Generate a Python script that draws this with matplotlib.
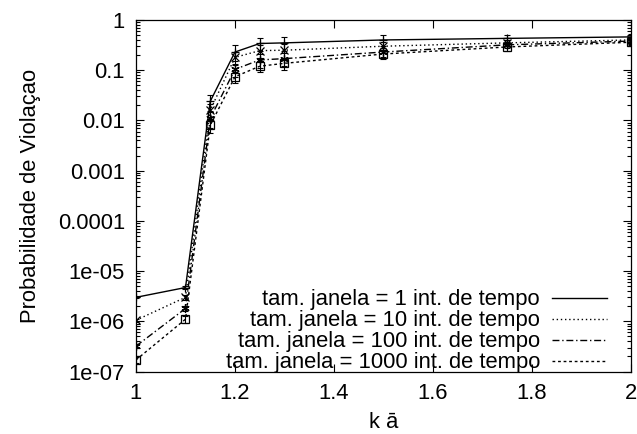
import matplotlib
matplotlib.use("Agg")
import matplotlib.pyplot as plt
from matplotlib.ticker import FixedLocator, LogLocator, NullFormatter

plt.rcParams['font.family'] = ['Liberation Sans', 'DejaVu Sans']

# dados
k_a = [1.0, 1.1, 1.15, 1.2, 1.25, 1.3, 1.5, 1.75, 2.0]
p_j1 = [3.0e-6, 4.7e-6, 0.024, 0.23, 0.34, 0.35, 0.40, 0.43, 0.46]
p_j10 = [1.05e-6, 3.0e-6, 0.016, 0.18, 0.245, 0.25, 0.30, 0.35, 0.40]
p_j100 = [3.2e-7, 1.8e-6, 0.011, 0.104, 0.16, 0.17, 0.23, 0.32, 0.38]
p_j1000 = [1.7e-7, 1.1e-6, 0.008, 0.074, 0.12, 0.137, 0.21, 0.29, 0.36]
# meia largura relativa das barras de erro
err_j1 = [0.05, 0.08, 0.35, 0.35, 0.30, 0.30, 0.25, 0.15, 0.12]
err_j10 = [0.08, 0.10, 0.35, 0.30, 0.30, 0.30, 0.20, 0.15, 0.12]
err_j100 = [0.10, 0.12, 0.35, 0.30, 0.30, 0.30, 0.20, 0.15, 0.12]
err_j1000 = [0.12, 0.15, 0.30, 0.25, 0.25, 0.25, 0.20, 0.15, 0.12]
labels = ['tam. janela = 1 int. de tempo', 'tam. janela = 10 int. de tempo',
          'tam. janela = 100 int. de tempo', 'tam. janela = 1000 int. de tempo']
yticks = [1e-7, 1e-6, 1e-5, 1e-4, 1e-3, 1e-2, 1e-1, 1]
ytick_labels = ['1e-07', '1e-06', '1e-05', '0.0001', '0.001', '0.01', '0.1', '1']
xticks = [1, 1.2, 1.4, 1.6, 1.8, 2]
xtick_labels = ['1', '1.2', '1.4', '1.6', '1.8', '2']

series = [p_j1, p_j10, p_j100, p_j1000]
errs = [err_j1, err_j10, err_j100, err_j1000]
styles = ['-', (0, (1, 2)), (0, (5, 2, 1, 2)), (0, (2, 2))]
markers = ['+', 'x', (6, 2, 0), 's']
fs = 15.8

fig = plt.figure(figsize=(6.37, 4.34), dpi=100)
ax = fig.add_axes([0.2135, 0.144, 0.777, 0.81])

handles = []
for y, e, ls, mk, lab in zip(series, errs, styles, markers, labels):
    yerr = [v * r for v, r in zip(y, e)]
    ax.errorbar(k_a, y, yerr=yerr, fmt='none', ecolor='black', elinewidth=0.8,
                capsize=2.5, capthick=0.8)
    ax.plot(k_a, y, linestyle=ls, color='black', linewidth=1.0, marker=mk,
            markersize=6, markerfacecolor='none', markeredgecolor='black',
            markeredgewidth=0.9)
    h, = ax.plot([], [], linestyle=ls, color='black', linewidth=1.0)
    handles.append(h)

ax.set_yscale('log')
ax.set_xlim(1, 2)
ax.set_ylim(1e-7, 1)
ax.yaxis.set_major_locator(FixedLocator(yticks))
ax.set_yticklabels(ytick_labels)
ax.yaxis.set_minor_locator(LogLocator(base=10, subs=range(2, 10), numticks=20))
ax.yaxis.set_minor_formatter(NullFormatter())
ax.set_xticks(xticks)
ax.set_xticklabels(xtick_labels)
ax.tick_params(which='both', direction='in', top=True, right=True, labelsize=fs, pad=8)
ax.tick_params(which='major', length=6, width=0.8)
ax.tick_params(which='minor', length=3, width=0.8)
for s in ax.spines.values():
    s.set_linewidth(0.9)

ax.set_xlabel('k ā', fontsize=fs, labelpad=6)
ax.set_ylabel('Probabilidade de Violaçao', fontsize=fs, labelpad=12)

leg = ax.legend(handles, labels, loc='lower right', bbox_to_anchor=(0.9515, -0.005),
                frameon=False, fontsize=fs, markerfirst=False, handlelength=2.5,
                handletextpad=0.55, labelspacing=0.0, borderpad=0.0, borderaxespad=0.0)
for t in leg.get_texts():
    t.set_ha('right')
leg._legend_box.align = 'right'

fig.savefig('out.png', dpi=100)
